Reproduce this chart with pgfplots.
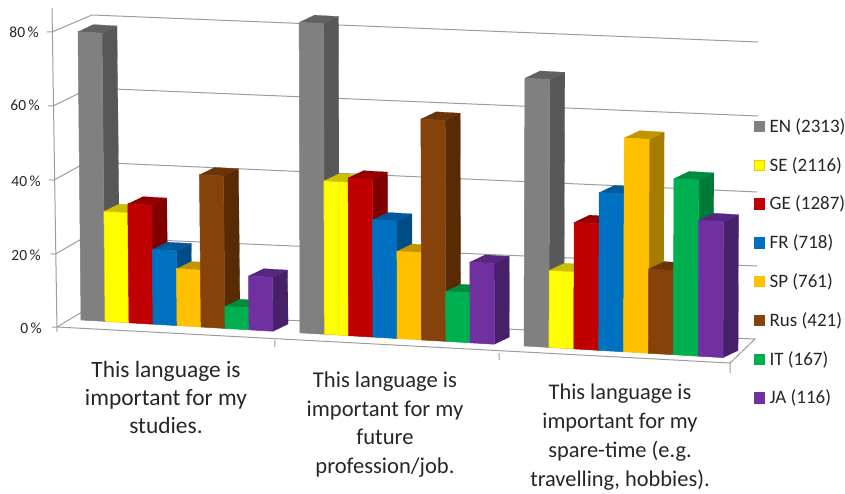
\documentclass[border=0pt]{standalone}
\usepackage{pgfplots}
\pgfplotsset{compat=1.18}
\usepackage{fontspec}
\setmainfont{Carlito}
\definecolor{enF}{HTML}{808080}\definecolor{enS}{HTML}{575757}\definecolor{enT}{HTML}{616161}\definecolor{enE}{HTML}{808080}
\definecolor{seF}{HTML}{FFFF00}\definecolor{seS}{HTML}{A8A800}\definecolor{seT}{HTML}{C8C000}\definecolor{seE}{HTML}{FFC000}
\definecolor{geF}{HTML}{C00000}\definecolor{geS}{HTML}{800000}\definecolor{geT}{HTML}{940000}\definecolor{geE}{HTML}{C00000}
\definecolor{frF}{HTML}{0070C0}\definecolor{frS}{HTML}{004D86}\definecolor{frT}{HTML}{005A9C}\definecolor{frE}{HTML}{0070C0}
\definecolor{spF}{HTML}{FFC000}\definecolor{spS}{HTML}{A67C00}\definecolor{spT}{HTML}{C49400}\definecolor{spE}{HTML}{FFC000}
\definecolor{ruF}{HTML}{85420A}\definecolor{ruS}{HTML}{592B05}\definecolor{ruT}{HTML}{693407}\definecolor{ruE}{HTML}{85420A}
\definecolor{itF}{HTML}{00B050}\definecolor{itS}{HTML}{007A38}\definecolor{itT}{HTML}{008C40}\definecolor{itE}{HTML}{00B050}
\definecolor{jaF}{HTML}{7030A0}\definecolor{jaS}{HTML}{47206A}\definecolor{jaT}{HTML}{572680}\definecolor{jaE}{HTML}{7030A0}
\definecolor{wallgray}{HTML}{9C9C9C}
\definecolor{txt}{HTML}{262626}
% a bar: group start, bar width, index in group, value (percent), colour stem
% \lean: sideways drift of the verticals per percent (the reference has a slight perspective)
\newcommand{\threedbar}[5]{%
  \pgfmathsetmacro\xl{#1+#2*#3}%
  \pgfmathsetmacro\xr{#1+#2*(#3+1)}%
  \pgfmathsetmacro\xlt{\xl+\lean*#4}%
  \pgfmathsetmacro\xrt{\xr+\lean*#4}%
  \addplot3[forget plot,fill=#5S,draw=#5S,line width=0.2pt,no marks] coordinates {(\xr,0,0)(\xr,1,0)(\xrt,1,#4)(\xrt,0,#4)};
  \addplot3[forget plot,fill=#5T,draw=#5T,line width=0.2pt,no marks] coordinates {(\xlt,0,#4)(\xrt,0,#4)(\xrt,1,#4)(\xlt,1,#4)};
  \addplot3[forget plot,fill=#5F,draw=#5E,line width=0.5pt,no marks] coordinates {(\xl,0,0)(\xr,0,0)(\xrt,0,#4)(\xlt,0,#4)(\xl,0,0)};
}
\newcommand{\gline}[1]{\addplot3[forget plot,wallgray,line width=1pt,no marks] coordinates {#1};}
\begin{document}
\begin{tikzpicture}[x=1pt,y=1pt]
\begin{axis}[
  at={(81pt,173pt)},anchor=origin,
  x={(24.4pt,-1.43pt)},y={(15pt,7.2pt)},z={(0pt,3.67pt)},
  xmin=-3,xmax=32,ymin=-3,ymax=4,zmin=-10,zmax=90,
  hide axis,clip=false,
  legend cell align=left,
  legend style={at={(axis cs:26.66,1.3,63.9)},anchor=north west,draw=none,fill=none,
    font=\fontsize{19}{20}\selectfont\color{txt},row sep=19.4pt,
    /tikz/every odd column/.append style={column sep=3pt}},
]
% back wall and left wall grid
\gline{(-0.633,-0.904,80)(-0.466,1.491,80)(25.914,2.980,80)}
\gline{(-0.551,-0.971,60)(-0.569,1.526,60)(25.96,2.906,60)}
\gline{(-0.469,-1.038,40)(-0.633,1.430,40)(26.12,2.577,40)}
\gline{(-0.368,-1.101,20)(-0.584,1.217,20)(26.17,2.502,20)}
\gline{(-0.344,-1.041,0)(-0.572,0.997,0)(26.06,2.537,0)(26.98,-0.614,0)(-0.344,-1.041,0)}
% vertical axis and its ticks
\gline{(-1.063,-0.204,85)(0.037,-1.659,0)}
\gline{(-0.633,-0.904,80)(-0.816,-0.940,80)}
\gline{(-0.551,-0.971,60)(-0.734,-1.007,60)}
\gline{(-0.469,-1.038,40)(-0.652,-1.074,40)}
\gline{(-0.368,-1.101,20)(-0.551,-1.137,20)}
\gline{(-0.344,-1.041,0)(-0.527,-1.077,0)}
% horizontal axis ticks
\gline{(8.607,-1.068,0)(9.140,-1.935,0)}
\gline{(17.778,-1.053,0)(18.311,-1.919,0)}
\gline{(26.98,-0.614,0)(27.74,-1.852,0)}
% group 1: important for studies
\def\lean{-0.00157}
\threedbar{0}{0.984}{0}{78.5}{en}
\threedbar{0}{0.984}{1}{30}{se}
\threedbar{0}{0.984}{2}{32.4}{ge}
\threedbar{0}{0.984}{3}{20.4}{fr}
\threedbar{0}{0.984}{4}{15.5}{sp}
\threedbar{0}{0.984}{5}{41.5}{ru}
\threedbar{0}{0.984}{6}{6}{it}
\threedbar{0}{0.984}{7}{14.7}{ja}
% group 2: important for future profession/job
\def\lean{-0.0004}
\threedbar{8.975}{0.996}{0}{84.6}{en}
\threedbar{8.975}{0.996}{1}{41.8}{se}
\threedbar{8.975}{0.996}{2}{43}{ge}
\threedbar{8.975}{0.996}{3}{32}{fr}
\threedbar{8.975}{0.996}{4}{23.8}{sp}
\threedbar{8.975}{0.996}{5}{60.2}{ru}
\threedbar{8.975}{0.996}{6}{13.6}{it}
\threedbar{8.975}{0.996}{7}{22}{ja}
% group 3: important for spare time
\def\lean{0.0005}
\threedbar{18.156}{1.02}{0}{73}{en}
\threedbar{18.156}{1.02}{1}{21}{se}
\threedbar{18.156}{1.02}{2}{34.5}{ge}
\threedbar{18.156}{1.02}{3}{43}{fr}
\threedbar{18.156}{1.02}{4}{58.3}{sp}
\threedbar{18.156}{1.02}{5}{23}{ru}
\threedbar{18.156}{1.02}{6}{48}{it}
\threedbar{18.156}{1.02}{7}{37}{ja}
% legend
\addlegendimage{only marks,mark=square*,mark size=5.2pt,mark options={fill=enF,draw=enF}}
\addlegendentry{EN (2313)}
\addlegendimage{only marks,mark=square*,mark size=5.2pt,mark options={fill=seF,draw=seE}}
\addlegendentry{SE (2116)}
\addlegendimage{only marks,mark=square*,mark size=5.2pt,mark options={fill=geF,draw=geF}}
\addlegendentry{GE (1287)}
\addlegendimage{only marks,mark=square*,mark size=5.2pt,mark options={fill=frF,draw=frF}}
\addlegendentry{FR (718)}
\addlegendimage{only marks,mark=square*,mark size=5.2pt,mark options={fill=spF,draw=spF}}
\addlegendentry{SP (761)}
\addlegendimage{only marks,mark=square*,mark size=5.2pt,mark options={fill=ruF,draw=ruF}}
\addlegendentry{Rus (421)}
\addlegendimage{only marks,mark=square*,mark size=5.2pt,mark options={fill=itF,draw=itF}}
\addlegendentry{IT (167)}
\addlegendimage{only marks,mark=square*,mark size=5.2pt,mark options={fill=jaF,draw=jaF}}
\addlegendentry{JA (116)}
\end{axis}
% value labels and category labels
\begin{scope}[every node/.style={text=txt,inner sep=0pt}]
\node[anchor=east,font=\fontsize{15.5}{16}\selectfont] at (39pt,460.5pt) {80\,\%};
\node[anchor=east,font=\fontsize{15.5}{16}\selectfont] at (40pt,388pt) {60\,\%};
\node[anchor=east,font=\fontsize{15.5}{16}\selectfont] at (41pt,311.5pt) {40\,\%};
\node[anchor=east,font=\fontsize{15.5}{16}\selectfont] at (41pt,238pt) {20\,\%};
\node[anchor=east,font=\fontsize{15.5}{16}\selectfont] at (42pt,165pt) {0\,\%};
\node[align=center,anchor=center,font=\fontsize{23.4}{28}\selectfont] at (166pt,95.5pt) {This language is\\important for my\\studies.};
\node[align=center,anchor=center,font=\fontsize{22.6}{28.5}\selectfont] at (385pt,68.5pt) {This language is\\important for my\\future\\profession/job.};
\node[align=center,anchor=center,font=\fontsize{22.4}{29}\selectfont] at (620pt,55.5pt) {This language is\\important for my\\spare-time (e.g.\\travelling, hobbies).};
\end{scope}
\pgfresetboundingbox
\path[use as bounding box] (0pt,0pt) rectangle (845pt,493pt);
\end{tikzpicture}
\end{document}
